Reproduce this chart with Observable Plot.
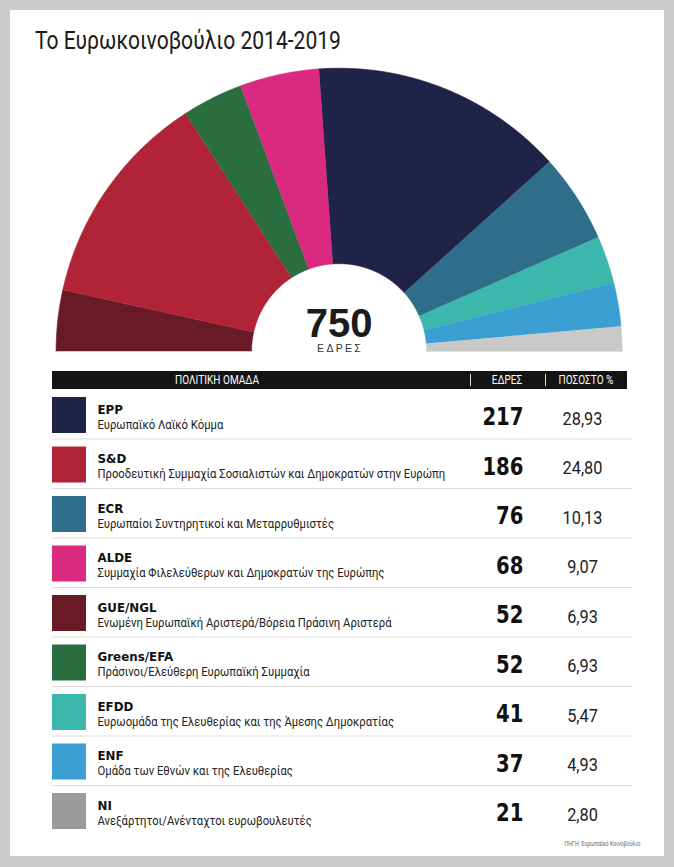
<!DOCTYPE html>
<html><head><meta charset="utf-8">
<script src="https://cdn.jsdelivr.net/npm/d3@7"></script>
<script src="https://cdn.jsdelivr.net/npm/@observablehq/plot@0.6"></script>
<style>
html,body{margin:0;padding:0;}
body{width:674px;height:867px;background:#cdcdcd;position:relative;overflow:hidden;font-family:Roboto,"Liberation Sans",sans-serif;}
#card{position:absolute;left:10px;top:10px;width:654px;height:846px;background:#fff;}
#title{position:absolute;left:35px;top:28px;line-height:1;color:#1a1a1a;white-space:nowrap;transform-origin:0 0;}
#arc{position:absolute;left:0;top:0;}
#table{position:absolute;left:0;top:360px;}
#head{position:absolute;left:52px;top:371px;width:575px;height:18px;background:#141414;}
#head span{position:absolute;top:0;line-height:18px;color:#fff;white-space:nowrap;}
#head i{position:absolute;top:3px;width:1px;height:12px;background:#ddd;}
#source{position:absolute;right:34px;top:841px;color:#666;white-space:nowrap;line-height:1;}
svg{background:transparent !important;}
</style></head>
<body>
<div id="card"></div>
<div id="title"></div>
<div id="arc"></div>
<div id="head"></div>
<div id="table"></div>
<div id="source"></div>
<script>
const titleText = "Το Ευρωκοινοβούλιο 2014-2019";
const parties = ["EPP","S&D","ECR","ALDE","GUE/NGL","Greens/EFA","EFDD","ENF","NI"];
const names = [
  "Ευρωπαϊκό Λαϊκό Κόμμα",
  "Προοδευτική Συμμαχία Σοσιαλιστών και Δημοκρατών στην Ευρώπη",
  "Ευρωπαίοι Συντηρητικοί και Μεταρρυθμιστές",
  "Συμμαχία Φιλελεύθερων και Δημοκρατών της Ευρώπης",
  "Ενωμένη Ευρωπαϊκή Αριστερά/Βόρεια Πράσινη Αριστερά",
  "Πράσινοι/Ελεύθερη Ευρωπαϊκή Συμμαχία",
  "Ευρωομάδα της Ελευθερίας και της Άμεσης Δημοκρατίας",
  "Ομάδα των Εθνών και της Ελευθερίας",
  "Ανεξάρτητοι/Ανένταχτοι ευρωβουλευτές"
];
const seats = [217,186,76,68,52,52,41,37,21];
const percents = ["28,93","24,80","10,13","9,07","6,93","6,93","5,47","4,93","2,80"];
const arcColors = ["#1e2347","#b12337","#2e6e8b","#d92a80","#6a1a25","#2a6d3e","#3cb7ac","#3b9fd3","#c9c9c7"];
const swatchColors = ["#1e2347","#b12337","#2e6e8b","#d92a80","#6a1a25","#2a6d3e","#3cb7ac","#3b9fd3","#9b9b9b"];
const arcOrder = ["GUE/NGL","S&D","Greens/EFA","ALDE","EPP","ECR","EFDD","ENF","NI"];
const columns = ["ΠΟΛΙΤΙΚΗ ΟΜΑΔΑ","ΕΔΡΕΣ","ΠΟΣΟΣΤΟ %"];
const seatsLabel = "ΕΔΡΕΣ";
const sourceText = "ΠΗΓΗ: Ευρωπαϊκό Κοινοβούλιο";

// font size fitting (to mimic the condensed typeface of the original)
const ctx = document.createElement("canvas").getContext("2d");
function fit(text, family, weight, target) {
  ctx.font = `${weight} 100px ${family}`;
  return 100 * target / ctx.measureText(text).width;
}
const FAM = "Roboto";
const COND = 0.84; // horizontal condensing factor
const titleSize = fit(titleText, FAM, 400, 306) / COND;
const descSize = fit(names[1], FAM, 400, 348) / COND;
const headSize = fit(columns[0], FAM, 400, 84) / COND;
const srcSize = fit(sourceText, FAM, 400, 76) / COND;

const t = document.getElementById("title");
t.textContent = titleText; t.style.fontSize = titleSize + "px"; t.style.fontFamily = FAM;
t.style.transform = `scaleX(${COND})`;
const src = document.getElementById("source");
src.textContent = sourceText; src.style.fontSize = srcSize + "px";
src.style.transform = `scaleX(${COND})`; src.style.transformOrigin = "100% 0";

// header
const head = d3.select("#head");
const colX = [165, 455, 534];
columns.forEach((c,i)=>head.append("span").style("left", colX[i]+"px").style("font-size", headSize+"px")
  .style("transform", `translateX(-50%) scaleX(${COND})`).text(c));
[418, 493].forEach(x=>head.append("i").style("left", x+"px"));

// arc
const total = d3.sum(seats);
const cx = 338.6, R = 283, baseY = 350.7, rIn = 87.5 / R;
const arcPts = [];
let cum = 0;
for (const p of arcOrder) {
  const i = parties.indexOf(p);
  const a0 = cum, a1 = cum + seats[i];
  cum = a1;
  const n = Math.max(4, Math.ceil((a1 - a0) / 1.5));
  const s = d3.range(n + 1).map(k => a0 + (a1 - a0) * k / n);
  for (const v of s) { const a = Math.PI * (1 - v / total); arcPts.push({party: p, x: Math.cos(a), y: Math.sin(a), color: arcColors[i]}); }
  for (const v of s.slice().reverse()) { const a = Math.PI * (1 - v / total); arcPts.push({party: p, x: rIn * Math.cos(a), y: rIn * Math.sin(a), color: arcColors[i]}); }
}

const arcPlot = Plot.plot({
  width: 674, height: 360, margin: 0,
  style: {background: "transparent"},
  x: {domain: [-1, 1], range: [cx - R, cx + R], axis: null},
  y: {domain: [0, 1], range: [baseY, baseY - R], axis: null},
  color: {type: "identity"},
  marks: [
    Plot.line(arcPts, {x: "x", y: "y", z: "party", fill: "color", stroke: "color", strokeWidth: 0.6, curve: "linear"}),
    Plot.text([total], {x: 0, y: 0, text: d => String(d), dy: -14, lineAnchor: "bottom", fontSize: 40, fontWeight: "bold", fontFamily: "Liberation Sans", fill: "#1b1b1b"}),
    Plot.text([seatsLabel], {x: 0, y: 0, text: d => d, dy: 0.5, lineAnchor: "bottom", fontSize: 10.5, fontFamily: "Liberation Sans", fill: "#333", dx: 1})
  ]
});
d3.select(arcPlot).selectAll("text").filter(function(){return this.textContent === seatsLabel;}).attr("letter-spacing", "2.3px");
document.getElementById("arc").appendChild(arcPlot);

// table
const rows = parties.map((p, i) => ({party: p, name: names[i], seats: seats[i], pct: percents[i], color: swatchColors[i]}));
const top0 = 29, top1 = 474.5;
const rowH = (top1 - top0) / parties.length;
const tablePlot = Plot.plot({
  width: 674, height: 507, margin: 0,
  style: {background: "transparent"},
  x: {domain: [0, 674], range: [0, 674], axis: null},
  y: {type: "band", domain: parties, range: [top0, top1], padding: 0, round: false, axis: null},
  color: {type: "identity"},
  marks: [
    Plot.ruleY(parties.slice(0, -1), {y: d => d, x1: 52, x2: 632, dy: rowH / 2, stroke: "#dedede", strokeWidth: 1}),
    Plot.barX(rows, {x1: 52, x2: 86, y: "party", fill: "color", insetTop: 8, insetBottom: 5.5}),
    Plot.text(rows, {x: 97, y: "party", text: "party", textAnchor: "start", lineAnchor: "bottom", dy: -0.75, fontFamily: "DejaVu Sans", fontWeight: "bold", fontSize: 12.5, fill: "#111"}),
    Plot.text(rows, {x: 97, y: "party", text: "name", textAnchor: "start", lineAnchor: "bottom", dy: 14.25, fontFamily: FAM, fontSize: descSize, fill: "#222"}),
    Plot.text(rows, {x: 523, y: "party", text: d => String(d.seats), textAnchor: "end", lineAnchor: "bottom", dy: 10.75, fontFamily: "DejaVu Sans", fontWeight: "bold", fontSize: 24, fill: "#111"}),
    Plot.text(rows, {x: 582, y: "party", text: "pct", textAnchor: "middle", lineAnchor: "bottom", dy: 10.25, fontFamily: FAM, fontSize: 19, fill: "#222"})
  ]
});
document.getElementById("table").appendChild(tablePlot);

// horizontal condensing about each text's anchor point
function condense(set, k) {
  d3.select(tablePlot).selectAll("text").filter(function(){ return set.has(this.textContent); }).each(function() {
    const tr = this.getAttribute("transform") || "";
    const xa = this.getAttribute("x");
    if (xa !== null && xa !== "") {
      const x = +xa;
      this.setAttribute("transform", `${tr} translate(${x},0) scale(${k},1) translate(${-x},0)`);
    } else {
      this.setAttribute("transform", `${tr} scale(${k},1)`);
    }
  });
}
condense(new Set(names), COND);
condense(new Set(seats.map(String)), 0.82);
condense(new Set(percents), 0.86);
condense(new Set(parties), 0.95);
</script>
</body></html>
